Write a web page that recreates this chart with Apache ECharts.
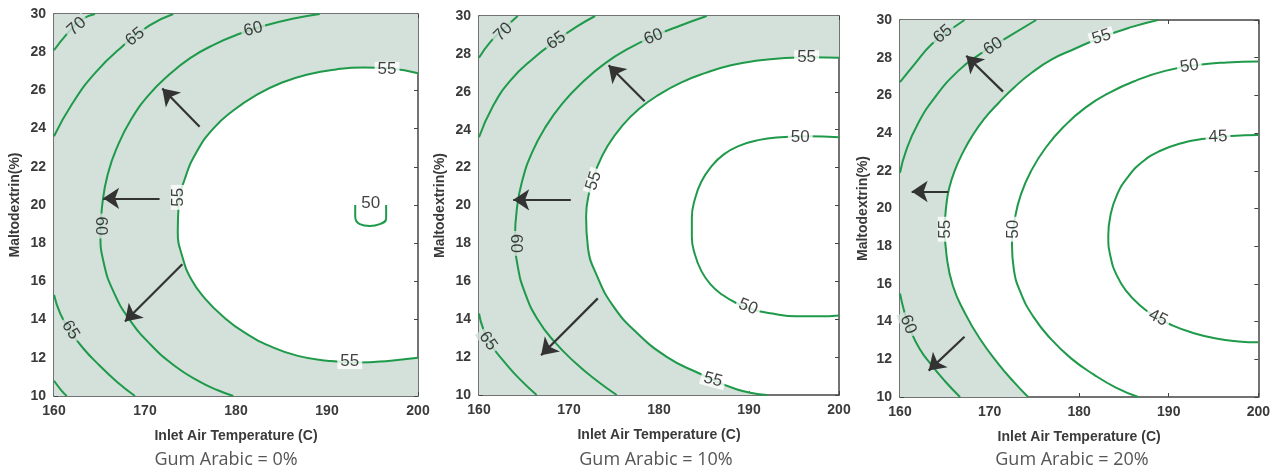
<!DOCTYPE html>
<html>
<head>
<meta charset="utf-8">
<script src="https://cdn.jsdelivr.net/npm/echarts@6/dist/echarts.min.js"></script>
<style>
html,body{margin:0;padding:0;background:#fff;}
#c{width:1273px;height:474px;}
</style>
</head>
<body>
<div id="c"></div>
<script>
// ---------- text ----------
const panelTitles = ['Gum Arabic = 0%', 'Gum Arabic = 10%', 'Gum Arabic = 20%'];
const xAxisName = 'Inlet Air Temperature (C)';
const yAxisName = 'Maltodextrin(%)';
const xRange = [160, 200];
const yRange = [10, 30];
const xStep = 10;
const yStep = 2;

// ---------- Panel 1 : Gum Arabic 0% (contour lines, [temperature, maltodextrin]) ----------
const p1_70a = [[160,28.1],[161.5,29.0],[163,29.7],[164.5,30]];
const p1_70b = [[160,10.8],[160.8,10.3],[161.4,10]];
const p1_65a = [[160,23.6],[162,25.3],[164.5,26.9],[167.5,28.3],[170.5,29.4],[173.1,30]];
const p1_65b = [[160,15.3],[160.7,14.3],[161.8,13.4],[163.2,12.5],[165.0,11.6],[166.9,10.75],[168.9,10]];
const p1_60 = [[189.2,30],[186.2,29.75],[183.2,29.4],[180.3,28.95],[177.6,28.4],[175.0,27.7],[172.6,26.8],[170.4,25.75],[168.5,24.5],[167.0,23.1],[165.9,21.6],[165.3,20.0],[165.1,18.5],[165.5,16.9],[166.6,15.4],[168.3,14.0],[170.6,12.7],[173.2,11.6],[176.0,10.75],[178.0,10.3],[179.7,10]];
const p1_55 = [[200,26.9],[197,27.15],[194,27.2],[191,27.1],[188,26.85],[185,26.4],[182.2,25.75],[179.7,24.95],[177.5,24.0],[175.7,22.8],[174.4,21.4],[173.7,20.0],[173.6,18.6],[174.1,17.3],[175.1,16.1],[176.6,15.1],[178.6,14.15],[181.0,13.3],[183.8,12.6],[186.8,12.1],[190.0,11.85],[193.5,11.75],[197,11.85],[200,12.0]];
const p1_50 = [[193.1,20.0],[193.1,19.4],[193.6,19.0],[194.7,18.9],[195.8,19.0],[196.5,19.3],[196.5,20.0]];
const p1_labels = [
  [162.5,29.35,'70',42],[168.9,28.8,'65',38],[181.9,29.2,'60',15],[196.6,27.1,'55',0],
  [173.65,20.4,'55',90],[165.15,18.9,'60',-90],[161.8,13.45,'65',-58],[192.5,11.8,'55',0],[194.8,20.1,'50',0]
];
const p1_arrows = [[[176.0,24.1],[171.9,26.1]],[[171.6,20.35],[165.4,20.35]],[[174.1,16.9],[167.8,13.9]]];

// ---------- Panel 2 : Gum Arabic 10% ----------
const p2_70a = [[160,27.8],[161.2,28.6],[162.7,29.3],[164.3,30]];
const p2_65a = [[160,23.6],[161.5,25.2],[163.5,26.6],[166.0,27.75],[168.6,28.7],[170.9,29.45],[172.9,30]];
const p2_65b = [[160,14.3],[160.5,13.45],[161.5,12.55],[162.9,11.7],[164.5,10.85],[166.4,10]];
const p2_60 = [[185.3,30],[182.4,29.5],[179.5,28.95],[176.7,28.3],[174.0,27.5],[171.5,26.5],[169.3,25.4],[167.4,24.15],[165.9,22.8],[164.8,21.3],[164.2,19.8],[164.0,18.3],[164.3,16.8],[165.1,15.4],[166.5,14.0],[168.4,12.8],[170.7,11.7],[173.1,10.75],[175.3,10]];
const p2_55 = [[200,27.8],[197,27.82],[194,27.78],[191,27.65],[188,27.4],[185.2,27.0],[182.5,26.5],[180.0,25.85],[177.8,25.1],[175.9,24.2],[174.3,23.15],[173.1,22.0],[172.3,20.8],[171.9,19.4],[172.1,17.8],[173.1,16.3],[174.9,14.7],[177.5,13.3],[180.9,12.0],[184.2,11.2],[188.6,10.3],[192.0,10]];
const p2_50 = [[200,23.6],[196.5,23.65],[193.5,23.6],[191.0,23.45],[188.9,23.15],[187.2,22.7],[185.8,22.05],[184.7,21.25],[184.0,20.35],[183.65,19.35],[183.65,18.35],[184.0,17.4],[184.7,16.55],[185.7,15.85],[187.0,15.3],[188.6,14.85],[190.5,14.5],[192.6,14.3],[195.2,14.15],[197.8,14.15],[200,14.2]];
const p2_labels = [
  [162.7,29.15,'70',45],[168.6,28.7,'65',35],[179.4,28.9,'60',22],[196.4,27.8,'55',0],
  [172.75,21.3,'55',72],[164.05,18.0,'60',-90],[161.0,12.85,'65',-55],[186.0,10.8,'55',-15],
  [195.7,23.6,'50',0],[189.9,14.65,'50',-21]
];
const p2_arrows = [[[178.4,25.5],[174.4,27.4]],[[170.2,20.3],[163.8,20.3]],[[173.2,15.1],[166.9,12.1]]];

// ---------- Panel 3 : Gum Arabic 20% ----------
const p3_65a = [[160,26.7],[161.7,27.7],[163.5,28.7],[165.4,29.4],[167.2,30]];
const p3_60a = [[160,21.9],[160.7,23.1],[162.0,24.5],[163.9,25.9],[166.5,27.3],[168.8,28.15],[171.7,29.0],[175.2,30]];
const p3_60b = [[160,15.5],[160.5,14.5],[161.2,13.5],[162.2,12.55],[163.5,11.7],[165.0,10.85],[166.7,10]];
const p3_55 = [[188.8,30],[185.8,29.62],[182.6,29.1],[179.4,28.45],[176.9,27.9],[174.7,27.2],[172.8,26.45],[171.0,25.6],[169.4,24.75],[168.0,23.8],[167.0,22.95],[166.1,22.0],[165.5,21.1],[165.2,20.3],[165.0,18.9],[165.2,17.5],[165.9,15.9],[167.2,14.5],[168.9,13.1],[171.0,11.75],[172.7,10.8],[174.3,10]];
const p3_50 = [[200,27.8],[196.5,27.75],[193.0,27.6],[189.6,27.3],[186.4,26.8],[183.4,26.15],[180.7,25.35],[178.3,24.35],[176.3,23.25],[174.7,22.05],[173.5,20.75],[172.8,19.4],[172.5,18.1],[172.7,16.8],[173.5,15.5],[174.9,14.25],[176.8,13.1],[179.1,12.05],[181.6,11.2],[184.1,10.5],[186.6,10]];
const p3_45 = [[200,23.9],[197,23.85],[194,23.7],[191.3,23.45],[189.0,23.05],[187.0,22.45],[185.4,21.65],[184.2,20.7],[183.5,19.65],[183.25,18.55],[183.5,17.45],[184.2,16.45],[185.3,15.6],[186.7,14.9],[188.4,14.3],[190.4,13.8],[192.7,13.4],[195.3,13.1],[197.8,12.95],[200,12.9]];
const p3_labels = [
  [164.8,29.25,'65',40],[170.4,28.6,'60',33],[182.5,29.1,'55',18],[192.3,27.55,'50',8],
  [195.5,23.8,'45',3],[165.05,18.9,'55',90],[172.6,18.9,'50',90],[160.9,13.85,'60',-68],[188.8,14.2,'45',-26]
];
const p3_arrows = [[[171.5,26.2],[167.4,28.1]],[[165.4,20.9],[161.3,20.9]],[[167.2,13.2],[163.2,11.4]]];

// ---------- assembly ----------
const SHADE = '#d3e1da';
const GREEN = '#1f9a4a';
const AXIS = '#444';
const TXT = '#3a3a3a';
const FONT = '"Liberation Sans", Arial, sans-serif';

const panels = [
  {contours:[p1_70a,p1_70b,p1_65a,p1_65b,p1_60,p1_55,p1_50], boundary:p1_55, labels:p1_labels, arrows:p1_arrows},
  {contours:[p2_70a,p2_65a,p2_65b,p2_60,p2_55,p2_50], boundary:p2_55, labels:p2_labels, arrows:p2_arrows},
  {contours:[p3_65a,p3_60a,p3_60b,p3_55,p3_50,p3_45], boundary:p3_55, labels:p3_labels, arrows:p3_arrows}
];
const grids = [
  {left:54, top:14, width:364, height:382},
  {left:479, top:16, width:360, height:379},
  {left:900, top:20, width:359, height:377}
];
const yNameGaps = [32, 32, 30];
const titleX = [226, 656, 1072];

const xAxes = [], yAxes = [], series = [], graphics = [];
const tickLabel = {color:TXT, fontSize:14, fontWeight:'bold', fontFamily:FONT};
const boxLine = {show:true, lineStyle:{color:AXIS, width:1.5}};
const boxTick = {show:true, inside:true, length:4, lineStyle:{color:AXIS}};

grids.forEach((g, i) => {
  xAxes.push({type:'value', gridIndex:i, position:'bottom', min:xRange[0], max:xRange[1], interval:xStep,
    splitLine:{show:false}, axisLine:boxLine, axisTick:boxTick,
    axisLabel:Object.assign({margin:8, showMinLabel:true, showMaxLabel:true}, tickLabel),
    name:xAxisName, nameLocation:'middle', nameGap:33,
    nameTextStyle:{color:TXT, fontSize:14, fontWeight:'bold', fontFamily:FONT}});
  yAxes.push({type:'value', gridIndex:i, position:'left', min:yRange[0], max:yRange[1], interval:yStep,
    splitLine:{show:false}, axisLine:boxLine, axisTick:boxTick,
    axisLabel:Object.assign({margin:8, showMinLabel:true, showMaxLabel:true}, tickLabel),
    name:yAxisName, nameLocation:'middle', nameGap:yNameGaps[i], nameRotate:90,
    nameTextStyle:{color:TXT, fontSize:14, fontWeight:'bold', fontFamily:FONT}});
});
grids.forEach((g, i) => {
  xAxes.push({type:'value', gridIndex:i, position:'top', min:xRange[0], max:xRange[1], interval:xStep,
    splitLine:{show:false}, axisLabel:{show:false}, axisLine:boxLine, axisTick:boxTick});
  yAxes.push({type:'value', gridIndex:i, position:'right', min:yRange[0], max:yRange[1], interval:yStep,
    splitLine:{show:false}, axisLabel:{show:false}, axisLine:boxLine, axisTick:boxTick});
});

panels.forEach((p, i) => {
  // shaded region (response above 55)
  const b = p.boundary;
  const poly = [[xRange[0], yRange[0]], [xRange[0], yRange[1]]];
  if (b[0][0] === xRange[1]) poly.push([xRange[1], yRange[1]]);
  b.forEach(pt => poly.push(pt));
  if (b[b.length-1][0] === xRange[1]) poly.push([xRange[1], yRange[0]]);
  series.push({
    type:'custom', xAxisIndex:i, yAxisIndex:i, silent:true, animation:false, z:1, clip:true,
    data: poly,
    renderItem: (params, api) => {
      if (params.dataIndex !== 0) return;
      return {type:'polygon', shape:{points: poly.map(q => api.coord(q)), smooth:0}, style:{fill:SHADE}};
    }
  });
  // contour lines
  p.contours.forEach(c => {
    series.push({type:'line', xAxisIndex:i, yAxisIndex:i, data:c, showSymbol:false, symbol:'none',
      smooth:0.5, silent:true, animation:false, z:3, clip:true,
      lineStyle:{color:GREEN, width:2}});
  });
  // contour labels
  series.push({type:'scatter', xAxisIndex:i, yAxisIndex:i, symbolSize:2, silent:true, animation:false, z:5,
    itemStyle:{color:'rgba(0,0,0,0)'},
    label:{show:true, position:'inside', fontSize:17, lineHeight:15, color:'#111', fontFamily:FONT, padding:[0,3]},
    labelLayout:{hideOverlap:false},
    data: p.labels.map(l => ({value:[l[0], l[1]],
      label:{show:true, formatter:l[2], rotate:l[3], backgroundColor: Number(l[2]) > 55 ? SHADE : '#ffffff'}}))
  });
  // arrows
  series.push({type:'lines', coordinateSystem:'cartesian2d', xAxisIndex:i, yAxisIndex:i, silent:true,
    animation:false, z:6, symbol:['none','arrow'], symbolSize:[0,16],
    lineStyle:{color:'#333', width:2.2, opacity:1, curveness:0},
    data: p.arrows.map(a => ({coords:a}))});
  graphics.push({type:'text', x:titleX[i], y:460, silent:true,
    style:{text:panelTitles[i], fill:'#555', font:'18px "Open Sans", sans-serif', textAlign:'center', textVerticalAlign:'middle'}});
});

const chart = echarts.init(document.getElementById('c'), null, {renderer:'canvas'});
chart.setOption({
  animation:false,
  backgroundColor:'#fff',
  grid: grids,
  xAxis: xAxes,
  yAxis: yAxes,
  series: series,
  graphic: graphics
});
</script>
</body>
</html>
